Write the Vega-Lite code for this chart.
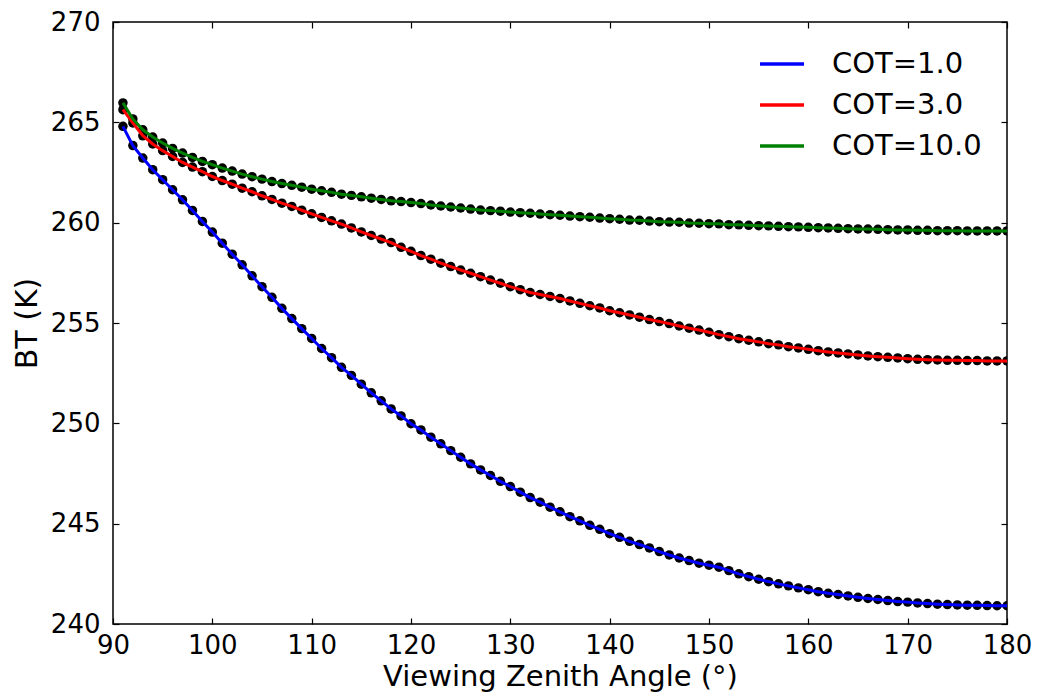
{
 "$schema": "https://vega.github.io/schema/vega-lite/v6.json",
 "width": 894, "height": 602,
 "autosize": {"type": "none"},
 "padding": {"left": 113, "top": 22, "right": 31, "bottom": 70},
 "background": "white",
 "config": {
  "view": {"stroke": "black", "strokeWidth": 1.5},
  "font": "DejaVu Sans",
  "axis": {"grid": false, "domain": false, "tickColor": "black", "tickSize": -6, "tickWidth": 1.2, "labelColor": "black", "labelFont": "DejaVu Sans", "labelFontSize": 26, "titleFont": "DejaVu Sans", "titleFontSize": 30, "titleFontWeight": "normal", "titleColor": "black"}
 },
 "data": {"values": [
   {"cot":"COT=1.0","angle":91,"bt":264.80},{"cot":"COT=1.0","angle":92,"bt":263.84},{"cot":"COT=1.0","angle":93,"bt":263.22},{"cot":"COT=1.0","angle":94,"bt":262.64},{"cot":"COT=1.0","angle":95,"bt":262.14},{"cot":"COT=1.0","angle":96,"bt":261.64},{"cot":"COT=1.0","angle":97,"bt":261.14},{"cot":"COT=1.0","angle":98,"bt":260.61},{"cot":"COT=1.0","angle":99,"bt":260.06},{"cot":"COT=1.0","angle":100,"bt":259.53},
   {"cot":"COT=1.0","angle":101,"bt":258.98},{"cot":"COT=1.0","angle":102,"bt":258.43},{"cot":"COT=1.0","angle":103,"bt":257.90},{"cot":"COT=1.0","angle":104,"bt":257.35},{"cot":"COT=1.0","angle":105,"bt":256.81},{"cot":"COT=1.0","angle":106,"bt":256.28},{"cot":"COT=1.0","angle":107,"bt":255.73},{"cot":"COT=1.0","angle":108,"bt":255.22},{"cot":"COT=1.0","angle":109,"bt":254.72},{"cot":"COT=1.0","angle":110,"bt":254.23},
   {"cot":"COT=1.0","angle":111,"bt":253.73},{"cot":"COT=1.0","angle":112,"bt":253.27},{"cot":"COT=1.0","angle":113,"bt":252.79},{"cot":"COT=1.0","angle":114,"bt":252.39},{"cot":"COT=1.0","angle":115,"bt":251.95},{"cot":"COT=1.0","angle":116,"bt":251.52},{"cot":"COT=1.0","angle":117,"bt":251.12},{"cot":"COT=1.0","angle":118,"bt":250.72},{"cot":"COT=1.0","angle":119,"bt":250.37},{"cot":"COT=1.0","angle":120,"bt":249.98},
   {"cot":"COT=1.0","angle":121,"bt":249.67},{"cot":"COT=1.0","angle":122,"bt":249.31},{"cot":"COT=1.0","angle":123,"bt":248.98},{"cot":"COT=1.0","angle":124,"bt":248.64},{"cot":"COT=1.0","angle":125,"bt":248.31},{"cot":"COT=1.0","angle":126,"bt":247.98},{"cot":"COT=1.0","angle":127,"bt":247.68},{"cot":"COT=1.0","angle":128,"bt":247.40},{"cot":"COT=1.0","angle":129,"bt":247.11},{"cot":"COT=1.0","angle":130,"bt":246.85},
   {"cot":"COT=1.0","angle":131,"bt":246.57},{"cot":"COT=1.0","angle":132,"bt":246.30},{"cot":"COT=1.0","angle":133,"bt":246.07},{"cot":"COT=1.0","angle":134,"bt":245.82},{"cot":"COT=1.0","angle":135,"bt":245.59},{"cot":"COT=1.0","angle":136,"bt":245.35},{"cot":"COT=1.0","angle":137,"bt":245.14},{"cot":"COT=1.0","angle":138,"bt":244.92},{"cot":"COT=1.0","angle":139,"bt":244.72},{"cot":"COT=1.0","angle":140,"bt":244.50},
   {"cot":"COT=1.0","angle":141,"bt":244.32},{"cot":"COT=1.0","angle":142,"bt":244.12},{"cot":"COT=1.0","angle":143,"bt":243.96},{"cot":"COT=1.0","angle":144,"bt":243.79},{"cot":"COT=1.0","angle":145,"bt":243.61},{"cot":"COT=1.0","angle":146,"bt":243.44},{"cot":"COT=1.0","angle":147,"bt":243.29},{"cot":"COT=1.0","angle":148,"bt":243.16},{"cot":"COT=1.0","angle":149,"bt":243.03},{"cot":"COT=1.0","angle":150,"bt":242.93},
   {"cot":"COT=1.0","angle":151,"bt":242.83},{"cot":"COT=1.0","angle":152,"bt":242.66},{"cot":"COT=1.0","angle":153,"bt":242.50},{"cot":"COT=1.0","angle":154,"bt":242.36},{"cot":"COT=1.0","angle":155,"bt":242.23},{"cot":"COT=1.0","angle":156,"bt":242.11},{"cot":"COT=1.0","angle":157,"bt":242.00},{"cot":"COT=1.0","angle":158,"bt":241.90},{"cot":"COT=1.0","angle":159,"bt":241.80},{"cot":"COT=1.0","angle":160,"bt":241.71},
   {"cot":"COT=1.0","angle":161,"bt":241.61},{"cot":"COT=1.0","angle":162,"bt":241.53},{"cot":"COT=1.0","angle":163,"bt":241.47},{"cot":"COT=1.0","angle":164,"bt":241.40},{"cot":"COT=1.0","angle":165,"bt":241.33},{"cot":"COT=1.0","angle":166,"bt":241.27},{"cot":"COT=1.0","angle":167,"bt":241.22},{"cot":"COT=1.0","angle":168,"bt":241.17},{"cot":"COT=1.0","angle":169,"bt":241.12},{"cot":"COT=1.0","angle":170,"bt":241.09},
   {"cot":"COT=1.0","angle":171,"bt":241.05},{"cot":"COT=1.0","angle":172,"bt":241.02},{"cot":"COT=1.0","angle":173,"bt":240.99},{"cot":"COT=1.0","angle":174,"bt":240.97},{"cot":"COT=1.0","angle":175,"bt":240.95},{"cot":"COT=1.0","angle":176,"bt":240.94},{"cot":"COT=1.0","angle":177,"bt":240.93},{"cot":"COT=1.0","angle":178,"bt":240.92},{"cot":"COT=1.0","angle":179,"bt":240.91},{"cot":"COT=1.0","angle":180,"bt":240.91},
   {"cot":"COT=3.0","angle":91,"bt":265.63},{"cot":"COT=3.0","angle":92,"bt":264.97},{"cot":"COT=3.0","angle":93,"bt":264.33},{"cot":"COT=3.0","angle":94,"bt":263.92},{"cot":"COT=3.0","angle":95,"bt":263.59},{"cot":"COT=3.0","angle":96,"bt":263.30},{"cot":"COT=3.0","angle":97,"bt":263.00},{"cot":"COT=3.0","angle":98,"bt":262.77},{"cot":"COT=3.0","angle":99,"bt":262.54},{"cot":"COT=3.0","angle":100,"bt":262.30},
   {"cot":"COT=3.0","angle":101,"bt":262.10},{"cot":"COT=3.0","angle":102,"bt":261.92},{"cot":"COT=3.0","angle":103,"bt":261.72},{"cot":"COT=3.0","angle":104,"bt":261.54},{"cot":"COT=3.0","angle":105,"bt":261.34},{"cot":"COT=3.0","angle":106,"bt":261.16},{"cot":"COT=3.0","angle":107,"bt":260.97},{"cot":"COT=3.0","angle":108,"bt":260.81},{"cot":"COT=3.0","angle":109,"bt":260.62},{"cot":"COT=3.0","angle":110,"bt":260.44},
   {"cot":"COT=3.0","angle":111,"bt":260.26},{"cot":"COT=3.0","angle":112,"bt":260.09},{"cot":"COT=3.0","angle":113,"bt":259.93},{"cot":"COT=3.0","angle":114,"bt":259.74},{"cot":"COT=3.0","angle":115,"bt":259.54},{"cot":"COT=3.0","angle":116,"bt":259.36},{"cot":"COT=3.0","angle":117,"bt":259.18},{"cot":"COT=3.0","angle":118,"bt":259.01},{"cot":"COT=3.0","angle":119,"bt":258.77},{"cot":"COT=3.0","angle":120,"bt":258.57},
   {"cot":"COT=3.0","angle":121,"bt":258.36},{"cot":"COT=3.0","angle":122,"bt":258.18},{"cot":"COT=3.0","angle":123,"bt":257.98},{"cot":"COT=3.0","angle":124,"bt":257.81},{"cot":"COT=3.0","angle":125,"bt":257.64},{"cot":"COT=3.0","angle":126,"bt":257.48},{"cot":"COT=3.0","angle":127,"bt":257.31},{"cot":"COT=3.0","angle":128,"bt":257.14},{"cot":"COT=3.0","angle":129,"bt":256.98},{"cot":"COT=3.0","angle":130,"bt":256.81},
   {"cot":"COT=3.0","angle":131,"bt":256.66},{"cot":"COT=3.0","angle":132,"bt":256.52},{"cot":"COT=3.0","angle":133,"bt":256.42},{"cot":"COT=3.0","angle":134,"bt":256.32},{"cot":"COT=3.0","angle":135,"bt":256.22},{"cot":"COT=3.0","angle":136,"bt":256.10},{"cot":"COT=3.0","angle":137,"bt":255.98},{"cot":"COT=3.0","angle":138,"bt":255.86},{"cot":"COT=3.0","angle":139,"bt":255.75},{"cot":"COT=3.0","angle":140,"bt":255.61},
   {"cot":"COT=3.0","angle":141,"bt":255.51},{"cot":"COT=3.0","angle":142,"bt":255.40},{"cot":"COT=3.0","angle":143,"bt":255.29},{"cot":"COT=3.0","angle":144,"bt":255.17},{"cot":"COT=3.0","angle":145,"bt":255.07},{"cot":"COT=3.0","angle":146,"bt":254.97},{"cot":"COT=3.0","angle":147,"bt":254.85},{"cot":"COT=3.0","angle":148,"bt":254.74},{"cot":"COT=3.0","angle":149,"bt":254.65},{"cot":"COT=3.0","angle":150,"bt":254.54},
   {"cot":"COT=3.0","angle":151,"bt":254.42},{"cot":"COT=3.0","angle":152,"bt":254.32},{"cot":"COT=3.0","angle":153,"bt":254.22},{"cot":"COT=3.0","angle":154,"bt":254.14},{"cot":"COT=3.0","angle":155,"bt":254.06},{"cot":"COT=3.0","angle":156,"bt":253.97},{"cot":"COT=3.0","angle":157,"bt":253.91},{"cot":"COT=3.0","angle":158,"bt":253.82},{"cot":"COT=3.0","angle":159,"bt":253.76},{"cot":"COT=3.0","angle":160,"bt":253.69},
   {"cot":"COT=3.0","angle":161,"bt":253.62},{"cot":"COT=3.0","angle":162,"bt":253.56},{"cot":"COT=3.0","angle":163,"bt":253.51},{"cot":"COT=3.0","angle":164,"bt":253.46},{"cot":"COT=3.0","angle":165,"bt":253.41},{"cot":"COT=3.0","angle":166,"bt":253.36},{"cot":"COT=3.0","angle":167,"bt":253.32},{"cot":"COT=3.0","angle":168,"bt":253.29},{"cot":"COT=3.0","angle":169,"bt":253.26},{"cot":"COT=3.0","angle":170,"bt":253.22},
   {"cot":"COT=3.0","angle":171,"bt":253.19},{"cot":"COT=3.0","angle":172,"bt":253.17},{"cot":"COT=3.0","angle":173,"bt":253.16},{"cot":"COT=3.0","angle":174,"bt":253.14},{"cot":"COT=3.0","angle":175,"bt":253.14},{"cot":"COT=3.0","angle":176,"bt":253.13},{"cot":"COT=3.0","angle":177,"bt":253.13},{"cot":"COT=3.0","angle":178,"bt":253.11},{"cot":"COT=3.0","angle":179,"bt":253.11},{"cot":"COT=3.0","angle":180,"bt":253.11},
   {"cot":"COT=10.0","angle":91,"bt":265.97},{"cot":"COT=10.0","angle":92,"bt":265.17},{"cot":"COT=10.0","angle":93,"bt":264.63},{"cot":"COT=10.0","angle":94,"bt":264.27},{"cot":"COT=10.0","angle":95,"bt":263.97},{"cot":"COT=10.0","angle":96,"bt":263.70},{"cot":"COT=10.0","angle":97,"bt":263.47},{"cot":"COT=10.0","angle":98,"bt":263.25},{"cot":"COT=10.0","angle":99,"bt":263.05},{"cot":"COT=10.0","angle":100,"bt":262.89},
   {"cot":"COT=10.0","angle":101,"bt":262.72},{"cot":"COT=10.0","angle":102,"bt":262.57},{"cot":"COT=10.0","angle":103,"bt":262.42},{"cot":"COT=10.0","angle":104,"bt":262.29},{"cot":"COT=10.0","angle":105,"bt":262.17},{"cot":"COT=10.0","angle":106,"bt":262.05},{"cot":"COT=10.0","angle":107,"bt":261.95},{"cot":"COT=10.0","angle":108,"bt":261.86},{"cot":"COT=10.0","angle":109,"bt":261.77},{"cot":"COT=10.0","angle":110,"bt":261.67},
   {"cot":"COT=10.0","angle":111,"bt":261.59},{"cot":"COT=10.0","angle":112,"bt":261.51},{"cot":"COT=10.0","angle":113,"bt":261.42},{"cot":"COT=10.0","angle":114,"bt":261.36},{"cot":"COT=10.0","angle":115,"bt":261.29},{"cot":"COT=10.0","angle":116,"bt":261.22},{"cot":"COT=10.0","angle":117,"bt":261.16},{"cot":"COT=10.0","angle":118,"bt":261.09},{"cot":"COT=10.0","angle":119,"bt":261.05},{"cot":"COT=10.0","angle":120,"bt":261.00},
   {"cot":"COT=10.0","angle":121,"bt":260.95},{"cot":"COT=10.0","angle":122,"bt":260.88},{"cot":"COT=10.0","angle":123,"bt":260.83},{"cot":"COT=10.0","angle":124,"bt":260.78},{"cot":"COT=10.0","angle":125,"bt":260.73},{"cot":"COT=10.0","angle":126,"bt":260.68},{"cot":"COT=10.0","angle":127,"bt":260.63},{"cot":"COT=10.0","angle":128,"bt":260.60},{"cot":"COT=10.0","angle":129,"bt":260.57},{"cot":"COT=10.0","angle":130,"bt":260.53},
   {"cot":"COT=10.0","angle":131,"bt":260.50},{"cot":"COT=10.0","angle":132,"bt":260.47},{"cot":"COT=10.0","angle":133,"bt":260.43},{"cot":"COT=10.0","angle":134,"bt":260.40},{"cot":"COT=10.0","angle":135,"bt":260.37},{"cot":"COT=10.0","angle":136,"bt":260.33},{"cot":"COT=10.0","angle":137,"bt":260.30},{"cot":"COT=10.0","angle":138,"bt":260.27},{"cot":"COT=10.0","angle":139,"bt":260.23},{"cot":"COT=10.0","angle":140,"bt":260.20},
   {"cot":"COT=10.0","angle":141,"bt":260.17},{"cot":"COT=10.0","angle":142,"bt":260.13},{"cot":"COT=10.0","angle":143,"bt":260.12},{"cot":"COT=10.0","angle":144,"bt":260.08},{"cot":"COT=10.0","angle":145,"bt":260.05},{"cot":"COT=10.0","angle":146,"bt":260.03},{"cot":"COT=10.0","angle":147,"bt":260.02},{"cot":"COT=10.0","angle":148,"bt":259.98},{"cot":"COT=10.0","angle":149,"bt":259.97},{"cot":"COT=10.0","angle":150,"bt":259.95},
   {"cot":"COT=10.0","angle":151,"bt":259.94},{"cot":"COT=10.0","angle":152,"bt":259.90},{"cot":"COT=10.0","angle":153,"bt":259.89},{"cot":"COT=10.0","angle":154,"bt":259.87},{"cot":"COT=10.0","angle":155,"bt":259.85},{"cot":"COT=10.0","angle":156,"bt":259.84},{"cot":"COT=10.0","angle":157,"bt":259.82},{"cot":"COT=10.0","angle":158,"bt":259.80},{"cot":"COT=10.0","angle":159,"bt":259.79},{"cot":"COT=10.0","angle":160,"bt":259.77},
   {"cot":"COT=10.0","angle":161,"bt":259.75},{"cot":"COT=10.0","angle":162,"bt":259.74},{"cot":"COT=10.0","angle":163,"bt":259.72},{"cot":"COT=10.0","angle":164,"bt":259.70},{"cot":"COT=10.0","angle":165,"bt":259.69},{"cot":"COT=10.0","angle":166,"bt":259.68},{"cot":"COT=10.0","angle":167,"bt":259.67},{"cot":"COT=10.0","angle":168,"bt":259.65},{"cot":"COT=10.0","angle":169,"bt":259.64},{"cot":"COT=10.0","angle":170,"bt":259.64},
   {"cot":"COT=10.0","angle":171,"bt":259.62},{"cot":"COT=10.0","angle":172,"bt":259.62},{"cot":"COT=10.0","angle":173,"bt":259.60},{"cot":"COT=10.0","angle":174,"bt":259.60},{"cot":"COT=10.0","angle":175,"bt":259.60},{"cot":"COT=10.0","angle":176,"bt":259.59},{"cot":"COT=10.0","angle":177,"bt":259.59},{"cot":"COT=10.0","angle":178,"bt":259.59},{"cot":"COT=10.0","angle":179,"bt":259.59},{"cot":"COT=10.0","angle":180,"bt":259.59}
 ]},
 "layer": [
  {
   "mark": {"type": "point", "filled": true, "color": "black", "size": 90, "opacity": 1, "clip": true},
   "encoding": {
    "x": {"field": "angle", "type": "quantitative", "scale": {"domain": [90, 180], "nice": false, "zero": false},
          "axis": {"orient": "bottom", "values": [90,100,110,120,130,140,150,160,170,180], "format": "d", "title": "Viewing Zenith Angle (°)", "titleFontSize": 29, "labelPadding": 14, "titlePadding": 4, "labelFlush": false}},
    "y": {"field": "bt", "type": "quantitative", "scale": {"domain": [240, 270], "nice": false, "zero": false},
          "axis": {"orient": "left", "values": [240,245,250,255,260,265,270], "format": "d", "title": "BT (K)", "labelPadding": 19, "titlePadding": 8}},
    "detail": {"field": "cot", "type": "nominal"}
   }
  },
  {
   "mark": {"type": "line", "strokeWidth": 3, "clip": true},
   "encoding": {
    "x": {"field": "angle", "type": "quantitative",
          "axis": {"orient": "top", "values": [90,100,110,120,130,140,150,160,170,180], "labels": false, "title": null}},
    "y": {"field": "bt", "type": "quantitative",
          "axis": {"orient": "right", "values": [240,245,250,255,260,265,270], "labels": false, "title": null}},
    "color": {"field": "cot", "type": "nominal",
              "scale": {"domain": ["COT=1.0", "COT=3.0", "COT=10.0"], "range": ["#0000ff", "#ff0000", "#008000"]},
              "legend": {"title": null, "orient": "none", "legendX": 645, "legendY": 18, "padding": 0, "symbolType": "stroke", "symbolSize": 1936, "symbolStrokeWidth": 3.5, "labelFont": "DejaVu Sans", "labelFontSize": 29, "labelColor": "black", "labelOffset": 26, "rowPadding": 2}}
   }
  }
 ],
 "resolve": {"axis": {"x": "independent", "y": "independent"}}
}
